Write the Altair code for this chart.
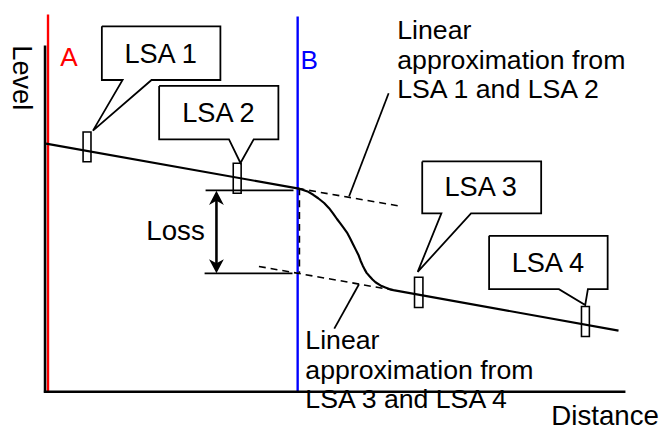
import altair as alt
import pandas as pd

# ---------------- data (diagram coordinates, pixel-like units) ----------------
# measured level trace
trace_x = [46.5, 301, 306, 312, 317, 322, 328, 333, 337, 341, 344, 347, 351, 354, 357, 360, 363,
           365, 367, 369, 371, 374, 377, 380, 385, 390, 394, 398, 626]
trace_y = [142.7, 188, 189.3, 191.5, 194.5, 198, 202.8, 208, 213.3, 219, 223, 227, 232.5, 238, 244, 250, 256,
           261.5, 266, 270, 273.5, 277, 280.3, 283, 286.2, 288.3, 289.8, 291, 332]

# axes (black)
axis_x1 = [45.5, 44.3]
axis_y1 = [43.3, 393.8]
axis_x2 = [45.5, 633]
axis_y2 = [395, 393.8]

# event markers A (red) and B (blue)
marker_names = ["A", "B"]
marker_x = [48.5, 301.2]
marker_top = [12, 14]
marker_bottom = [395, 395]

# linear approximations (dashed)
dash_x1 = [301, 262, 303]
dash_y1 = [188, 267, 188]
dash_x2 = [405, 398, 303]
dash_y2 = [206, 291, 274]

# loss reference lines
ref_x1 = [208, 207]
ref_x2 = [297, 296]
ref_y = [190, 274]
loss_arrow_x = [219]
loss_arrow_top = [190.5]
loss_arrow_bottom = [274]

# LSA windows
lsa_names = ["LSA 1", "LSA 2", "LSA 3", "LSA 4"]
lsa_x1 = [84, 236, 419.5, 588.5]
lsa_x2 = [92, 244, 428, 596.5]
lsa_y1 = [131, 162.5, 278, 307.5]
lsa_y2 = [161, 193, 308.5, 338]

# callout bubbles (outline vertices)
bubble_pts = {
    "LSA 1": [(103, 24), (223, 24), (223, 78.3), (153.3, 78.3), (94, 129.5), (124, 78.3), (103, 78.3), (103, 24)],
    "LSA 2": [(161, 84.3), (281.7, 84.3), (281.7, 138.3), (256.7, 138.3), (243.3, 162.3), (231.7, 138.3), (161, 138.3), (161, 84.3)],
    "LSA 3": [(427.3, 160.7), (547.7, 160.7), (547.7, 213.3), (476.7, 213.3), (422.7, 272.5), (446.7, 213.3), (427.3, 213.3), (427.3, 160.7)],
    "LSA 4": [(495, 236), (615, 236), (615, 290), (595, 290), (592.3, 306), (565.7, 290), (495, 290), (495, 236)],
}
bubble_label_x = [162.5, 221, 486.5, 554.5]
bubble_label_y = [60.7, 120.7, 196, 272.7]

# leader lines for the annotations
leader_x1 = [393.3, 363.3]
leader_y1 = [91.7, 285]
leader_x2 = [353.3, 338.3]
leader_y2 = [196, 330]

# annotation texts (one row per line)
note_lines = ["Linear", "approximation from", "LSA 1 and LSA 2",
              "Linear", "approximation from", "LSA 3 and LSA 4"]
note_x = [402, 402, 402, 309, 309, 309]
note_y = [36.5, 67, 97, 350.5, 380.5, 410.5]

# ---------------- build ----------------
W, H = 661, 422
xs = alt.Scale(domain=[8, 669], nice=False, zero=False)
ys = alt.Scale(domain=[8, 430], nice=False, zero=False, reverse=True)
FONT = "Liberation Sans"


def X(f="x"):
    return alt.X(f"{f}:Q", scale=xs, axis=None)


def Y(f="y"):
    return alt.Y(f"{f}:Q", scale=ys, axis=None)


def rules(df, **kw):
    return alt.Chart(df).mark_rule(**kw).encode(x=X("x"), y=Y("y"), x2="x2:Q", y2="y2:Q")


axes_df = pd.DataFrame({"x": axis_x1, "y": axis_y1, "x2": axis_x2, "y2": axis_y2})
axes = rules(axes_df, color="black", strokeWidth=2.6)

color_ab = alt.Color("name:N", scale=alt.Scale(domain=["A", "B"], range=["#ff0000", "#0000ff"]), legend=None)
mk_df = pd.DataFrame({"name": marker_names, "x": marker_x, "y": marker_top,
                      "x2": marker_x, "y2": marker_bottom})
markers = alt.Chart(mk_df).mark_rule(strokeWidth=2.4).encode(
    x=X("x"), y=Y("y"), x2="x2:Q", y2="y2:Q", color=color_ab,
)
marker_text = alt.Chart(pd.DataFrame({"name": marker_names, "x": [61, 304], "y": [64.5, 67.5]})).mark_text(
    align="left", baseline="alphabetic", font=FONT, fontSize=26.5
).encode(x=X("x"), y=Y("y"), text="name:N", color=color_ab)

dash_df = pd.DataFrame({"x": dash_x1, "y": dash_y1, "x2": dash_x2, "y2": dash_y2})
dashes = rules(dash_df, color="black", strokeWidth=1.6, strokeDash=[7, 5])

ref_df = pd.DataFrame({"x": ref_x1, "y": ref_y, "x2": ref_x2, "y2": ref_y})
refs = rules(ref_df, color="black", strokeWidth=1.8)

arrow_df = pd.DataFrame({"x": loss_arrow_x, "y": [loss_arrow_top[0] + 4], "x2": loss_arrow_x,
                         "y2": [loss_arrow_bottom[0] - 4]})
arrow_shaft = rules(arrow_df, color="black", strokeWidth=2.6)
head_up = alt.Chart(pd.DataFrame({"x": loss_arrow_x, "y": [loss_arrow_top[0] + 7.5]})).mark_point(
    shape="M0,-1L1,0.9L0,0.35L-1,0.9Z", filled=True, color="black", size=225, opacity=1
).encode(x=X("x"), y=Y("y"))
head_down = alt.Chart(pd.DataFrame({"x": loss_arrow_x, "y": [loss_arrow_bottom[0] - 7.5]})).mark_point(
    shape="M0,1L1,-0.9L0,-0.35L-1,-0.9Z", filled=True, color="black", size=225, opacity=1
).encode(x=X("x"), y=Y("y"))

trace_df = pd.DataFrame({"x": trace_x, "y": trace_y, "o": list(range(len(trace_x)))})
trace = alt.Chart(trace_df).mark_line(color="black", strokeWidth=2.2, interpolate="linear",
                                      strokeJoin="round").encode(
    x=X("x"), y=Y("y"), order="o:Q"
)

lsa_df = pd.DataFrame({"name": lsa_names, "x": lsa_x1, "x2": lsa_x2, "y": lsa_y1, "y2": lsa_y2})
lsa_rects = alt.Chart(lsa_df).mark_rect(fillOpacity=0, stroke="black", strokeWidth=1.6).encode(
    x=X("x"), x2="x2:Q", y=Y("y"), y2="y2:Q"
)

rows = []
for name, pts in bubble_pts.items():
    for i, (px, py) in enumerate(pts):
        rows.append({"name": name, "x": px, "y": py, "o": i})
bubble_df = pd.DataFrame(rows)
bubbles = alt.Chart(bubble_df).mark_line(color="black", strokeWidth=1.8, strokeJoin="miter").encode(
    x=X("x"), y=Y("y"), detail="name:N", order="o:Q"
)
bubble_text = alt.Chart(pd.DataFrame({"t": lsa_names, "x": bubble_label_x, "y": bubble_label_y})).mark_text(
    align="center", baseline="alphabetic", font=FONT, fontSize=27.5, color="black"
).encode(x=X("x"), y=Y("y"), text="t:N")

leader_df = pd.DataFrame({"x": leader_x1, "y": leader_y1, "x2": leader_x2, "y2": leader_y2})
leaders = rules(leader_df, color="black", strokeWidth=1.8)

notes = alt.Chart(pd.DataFrame({"t": note_lines, "x": note_x, "y": note_y})).mark_text(
    align="left", baseline="alphabetic", font=FONT, fontSize=27, color="black"
).encode(x=X("x"), y=Y("y"), text="t:N")

loss_text = alt.Chart(pd.DataFrame({"t": ["Loss"], "x": [148], "y": [240]})).mark_text(
    align="left", baseline="alphabetic", font=FONT, fontSize=28, color="black"
).encode(x=X("x"), y=Y("y"), text="t:N")

dist_text = alt.Chart(pd.DataFrame({"t": ["Distance"], "x": [558], "y": [428]})).mark_text(
    align="left", baseline="alphabetic", font=FONT, fontSize=28, color="black"
).encode(x=X("x"), y=Y("y"), text="t:N")

level_text = alt.Chart(pd.DataFrame({"t": ["Level"], "x": [13], "y": [76]})).mark_text(
    align="center", baseline="alphabetic", font=FONT, fontSize=27.5, angle=90, color="black"
).encode(x=X("x"), y=Y("y"), text="t:N")

chart = alt.layer(
    markers, axes, dashes, refs, arrow_shaft, head_up, head_down, trace, lsa_rects,
    bubbles, leaders, bubble_text, notes, loss_text, dist_text, level_text, marker_text,
).properties(
    width=W, height=H, padding=0,
    autosize=alt.AutoSizeParams(type="none"),
    background="white",
).configure_view(stroke=None)

chart.save("out.html", embed_options={"renderer": "svg", "actions": False})
